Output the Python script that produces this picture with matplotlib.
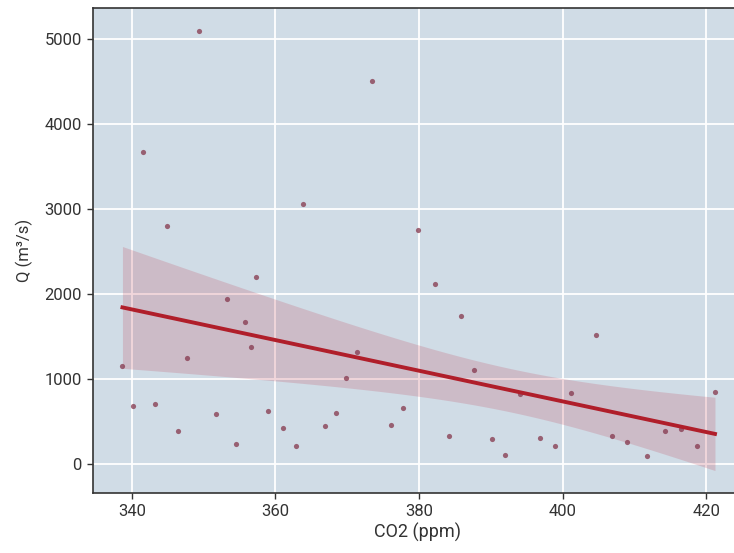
import numpy as np
import matplotlib
matplotlib.use("Agg")
import matplotlib.pyplot as plt

# annual mean CO2 (ppm) and discharge Q (m3/s)
co2 = [338.7, 340.1, 341.5, 343.2, 344.9, 346.4, 347.7, 349.3, 351.7, 353.2,
       354.5, 355.7, 356.6, 357.3, 359.0, 361.0, 362.8, 363.9, 366.9, 368.5,
       369.8, 371.3, 373.5, 376.1, 377.7, 379.8, 382.2, 384.1, 385.9, 387.7,
       390.2, 391.9, 394.1, 396.9, 398.9, 401.1, 404.6, 406.8, 408.9, 411.7,
       414.3, 416.5, 418.7, 421.2]
q = [1159, 686, 3668, 705, 2801, 388, 1253, 5094, 591, 1947,
     239, 1677, 1376, 2200, 630, 430, 219, 3064, 454, 603,
     1018, 1324, 4506, 458, 666, 2751, 2120, 329, 1748, 1105,
     297, 113, 827, 313, 211, 838, 1520, 336, 262, 98,
     388, 419, 215, 846]

x = np.array(co2)
y = np.array(q)

plt.rcParams['font.family'] = ['Roboto', 'DejaVu Sans']

fig = plt.figure(figsize=(7.34, 5.53), dpi=100)
ax = fig.add_axes([93/734, 1 - 493/553, 650/734, 485/553])
ax.set_facecolor('#d0dce6')

# OLS fit, 95% band from HC3 sandwich covariance
X = np.column_stack([np.ones_like(x), x])
XtX_inv = np.linalg.inv(X.T @ X)
beta = XtX_inv @ X.T @ y
e = y - X @ beta
h = np.einsum('ij,jk,ik->i', X, XtX_inv, X)
w = e**2 / (1 - h)**2
meat = X.T @ (X * w[:, None])
cov = XtX_inv @ meat @ XtX_inv
xs = np.linspace(x.min(), x.max(), 100)
Xs = np.column_stack([np.ones_like(xs), xs])
ys = Xs @ beta
se = np.sqrt(np.einsum('ij,jk,ik->i', Xs, cov, Xs))
ax.fill_between(xs, ys - 1.96*se, ys + 1.96*se, color='#c0394f', alpha=0.2,
                linewidth=0, zorder=2)

ax.scatter(x, y, s=14, color='#85364c', alpha=0.75, linewidths=0, zorder=3)
ax.plot(xs, ys, color='#b01e2a', linewidth=2.8, zorder=4)

ax.set_xlim(334.6, 425.1)
ax.set_ylim(-337, 5364)
ax.set_xticks([340, 360, 380, 400, 420])
ax.set_yticks([0, 1000, 2000, 3000, 4000, 5000])
ax.grid(True, color='white', linewidth=1.3)
ax.set_axisbelow(True)
for sp in ax.spines.values():
    sp.set_color('#333333')
    sp.set_linewidth(1.2)
ax.tick_params(direction='out', length=4, width=1, color='#333333',
               labelsize=12, labelcolor='#333333', pad=4)
ax.set_xlabel('CO2 (ppm)', fontsize=13, color='#333333', labelpad=3)
ax.set_ylabel('Q (m³/s)', fontsize=12, color='#333333', labelpad=8)

plt.savefig('out.png', dpi=100)
